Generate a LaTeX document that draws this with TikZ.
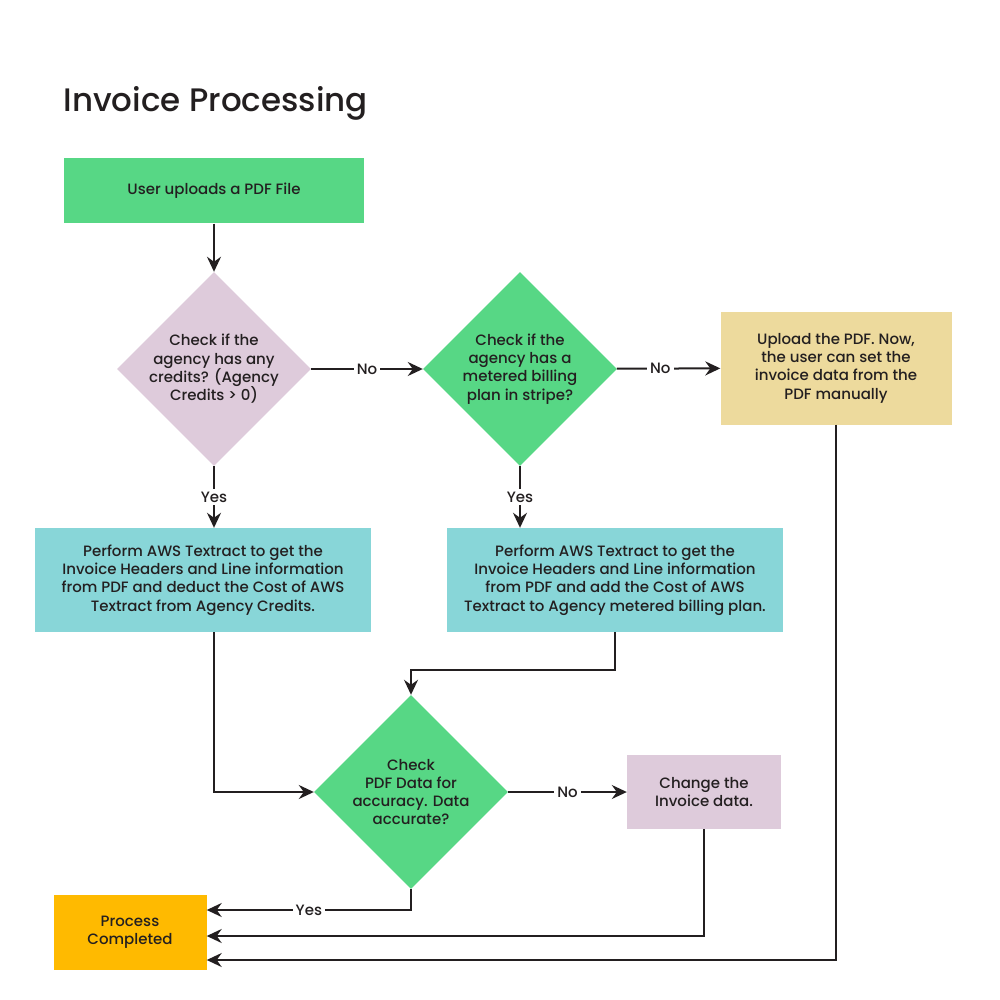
\documentclass[tikz,border=0pt]{standalone}
\usepackage{fontspec}
\setmainfont{Poppins}[UprightFont=* Medium]
\usetikzlibrary{
  shapes.geometric,
  arrows.meta
}
\definecolor{leaf}{HTML}{57D785}
\definecolor{heather}{HTML}{DECBDB}
\definecolor{aqua}{HTML}{88D6D8}
\definecolor{sand}{HTML}{EDDA9D}
\definecolor{amber}{HTML}{FFBA00}
\definecolor{ink}{HTML}{231F20}
\tikzset{
  every node/.style={
    text=ink,
    font=\fontsize{15}{18.3}\selectfont
  },
  procbox/.style={
    rectangle,
    inner sep=0pt,
    align=center
  },
  decision/.style={
    diamond,
    aspect=1,
    inner sep=-3pt,
    align=center,
    minimum width=194pt,
    minimum height=194pt
  },
  flow/.style={
    draw=ink,
    line width=2pt,
    -{Stealth[length=15pt,width=14pt,inset=5pt]}
  },
  answer/.style={
    fill=white,
    inner sep=3pt
  }
}

\begin{document}
\begin{tikzpicture}[x=1pt,y=-1pt]
  \fill[white] (0,0) rectangle (1000,1000);
  \useasboundingbox (0,0) rectangle (1000,1000);
  \node[anchor=base west, font=\fontsize{32.5}{36}\selectfont] (title) at (60,112) {Invoice Processing};

  % top row
  \node[procbox, fill=leaf, minimum width=300pt, minimum height=65pt] (upload) at (214,191) {User uploads a PDF File};
  \node[decision, fill=heather] (credits) at (214,369) {Check if the\\agency has any\\credits? (Agency\\Credits > 0)};
  \node[decision, fill=leaf] (metered) at (520,369) {Check if the\\agency has a\\metered billing\\plan in stripe?};
  \node[procbox, fill=sand, minimum width=231pt, minimum height=113pt] (manual) at (836,368) {Upload the PDF. Now,\\the user can set the\\invoice data from the\\PDF manually};

  % textract boxes
  \node[procbox, fill=aqua, minimum width=336pt, minimum height=104pt] (deduct) at (203,580) {Perform AWS Textract to get the\\Invoice Headers and Line information\\from PDF and deduct the Cost of AWS\\Textract from Agency Credits.};
  \node[procbox, fill=aqua, minimum width=336pt, minimum height=104pt] (billing) at (615,580) {Perform AWS Textract to get the\\Invoice Headers and Line information\\from PDF and add the Cost of AWS\\Textract to Agency metered billing plan.};

  % bottom part
  \node[decision, fill=leaf] (accurate) at (411,792) {Check\\PDF Data for\\accuracy. Data\\accurate?};
  \node[procbox, fill=heather, minimum width=154pt, minimum height=74pt] (change) at (704,792) {Change the\\Invoice data.};
  \node[procbox, fill=amber, minimum width=153pt, minimum height=75pt] (done) at (130,932) {Process\\Completed};

  % connectors
  \draw[flow] (upload) -- (credits);
  \draw[flow] (credits) -- node[answer] {No} (metered);
  \draw[flow] (metered) -- node[answer, pos=0.42] {No} (manual);
  \draw[flow] (credits) -- node[answer] {Yes} (credits.south |- deduct.north);
  \draw[flow] (metered) -- node[answer] {Yes} (metered.south |- billing.north);
  \draw[flow] (billing.south) -- ++(0,38) -| (accurate.north);
  \draw[flow] (credits.south |- deduct.south) |- (accurate.west);
  \draw[flow] (accurate) -- node[answer] {No} (change);
  \draw[flow] (accurate.south) |- node[answer, pos=0.75] {Yes} ([yshift=22pt]done.east);
  \draw[flow] (change.south) |- ([yshift=-4pt]done.east);
  \draw[flow] (manual.south) |- ([yshift=-28pt]done.east);
\end{tikzpicture}
\end{document}
